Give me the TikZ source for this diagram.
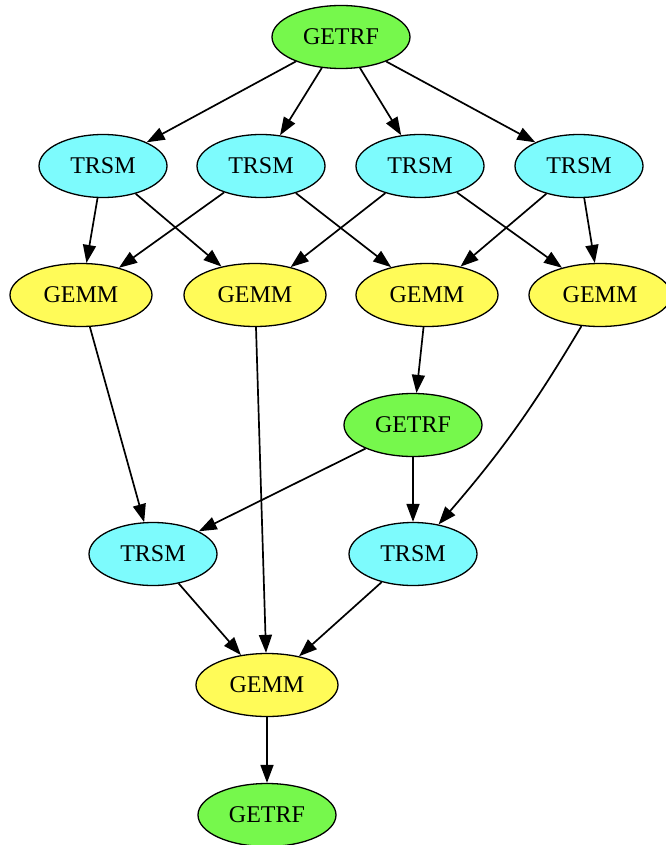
\documentclass[tikz,border=0pt]{standalone}
\usepackage{fontspec}
\setmainfont{Liberation Serif}
\usetikzlibrary{shapes.geometric,arrows.meta}

\definecolor{getrfgreen}{HTML}{76F84C}
\definecolor{trsmcyan}{HTML}{7DFBFD}
\definecolor{gemmyellow}{HTML}{FFFB58}

\tikzset{
  task/.style={ellipse, draw=black, line width=1.3pt, inner sep=0pt,
    minimum height=63pt, font=\fontsize{24}{28}\selectfont},
  getrf/.style={task, fill=getrfgreen, minimum width=138pt},
  trsm/.style={task, fill=trsmcyan, minimum width=128pt},
  gemm/.style={task, fill=gemmyellow, minimum width=142pt},
  dep/.style={line width=1.7pt, -{Triangle[length=18pt,width=13pt]}},
}

\begin{document}
\begin{tikzpicture}[x=1pt, y=-1pt]
  \useasboundingbox (0,0) rectangle (665,845);

  % Nodes
  \node[getrf] (f1) at (341,37)  {GETRF};
  \node[trsm]  (t1) at (103,166) {TRSM};
  \node[trsm]  (t2) at (261,166) {TRSM};
  \node[trsm]  (t3) at (420,166) {TRSM};
  \node[trsm]  (t4) at (579,166) {TRSM};
  \node[gemm]  (g1) at (81,295)  {GEMM};
  \node[gemm]  (g2) at (255,295) {GEMM};
  \node[gemm]  (g3) at (427,295) {GEMM};
  \node[gemm]  (g4) at (600,295) {GEMM};
  \node[getrf] (f2) at (413,425) {GETRF};
  \node[trsm]  (t5) at (153,554) {TRSM};
  \node[trsm]  (t6) at (413,554) {TRSM};
  \node[gemm]  (g5) at (267,685) {GEMM};
  \node[getrf] (f3) at (267,815) {GETRF};

  % Edges
  \foreach \t in {t1,t2,t3,t4}
    \draw[dep] (f1) -- (\t);
  \draw[dep] (t1) -- (g1);
  \draw[dep] (t1) -- (g2);
  \draw[dep] (t2) -- (g1);
  \draw[dep] (t2) -- (g3);
  \draw[dep] (t3) -- (g2);
  \draw[dep] (t3) -- (g4);
  \draw[dep] (t4) -- (g3);
  \draw[dep] (t4) -- (g4);
  \draw[dep] (g1) -- (t5);
  \draw[dep] (g2) -- (g5);
  \draw[dep] (g3) -- (f2);
  \draw[dep] (g4) to[bend left=5] (t6); % slight curve round the second panel
  \draw[dep] (f2) -- (t5);
  \draw[dep] (f2) -- (t6);
  \draw[dep] (t5) -- (g5);
  \draw[dep] (t6) -- (g5);
  \draw[dep] (g5) -- (f3);
\end{tikzpicture}
\end{document}
